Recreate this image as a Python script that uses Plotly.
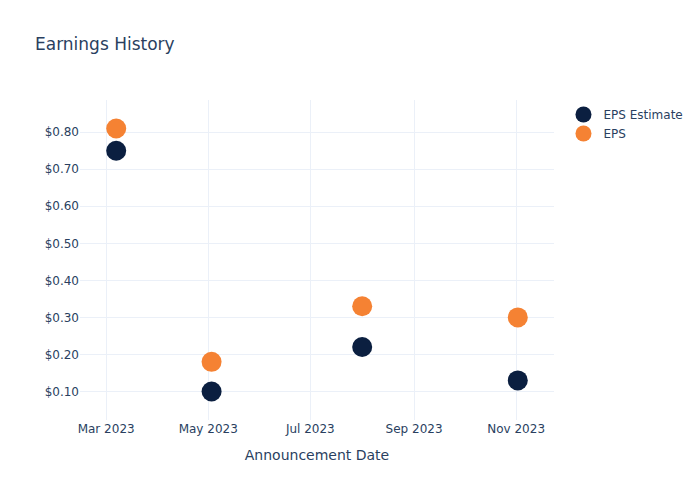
import plotly.graph_objects as go

dates = ["2023-03-07", "2023-05-03", "2023-08-01", "2023-11-02"]
eps_estimate = [0.75, 0.10, 0.22, 0.13]
eps_actual = [0.81, 0.18, 0.33, 0.30]

fig = go.Figure()
fig.add_trace(go.Scatter(x=dates, y=eps_estimate, mode="markers", name="EPS Estimate",
                         marker=dict(color="#0b1f40", size=20)))
fig.add_trace(go.Scatter(x=dates, y=eps_actual, mode="markers", name="EPS",
                         marker=dict(color="#f58233", size=20)))
fig.update_layout(
    template="plotly_white",
    width=700, height=500,
    font=dict(family="DejaVu Sans"),
    title=dict(text="Earnings History"),
    xaxis=dict(title=dict(text="Announcement Date"), tickformat="%b %Y", dtick="M2"),
    yaxis=dict(tickprefix="$", tickformat=".2f"),
)
fig.write_html("out.html")
